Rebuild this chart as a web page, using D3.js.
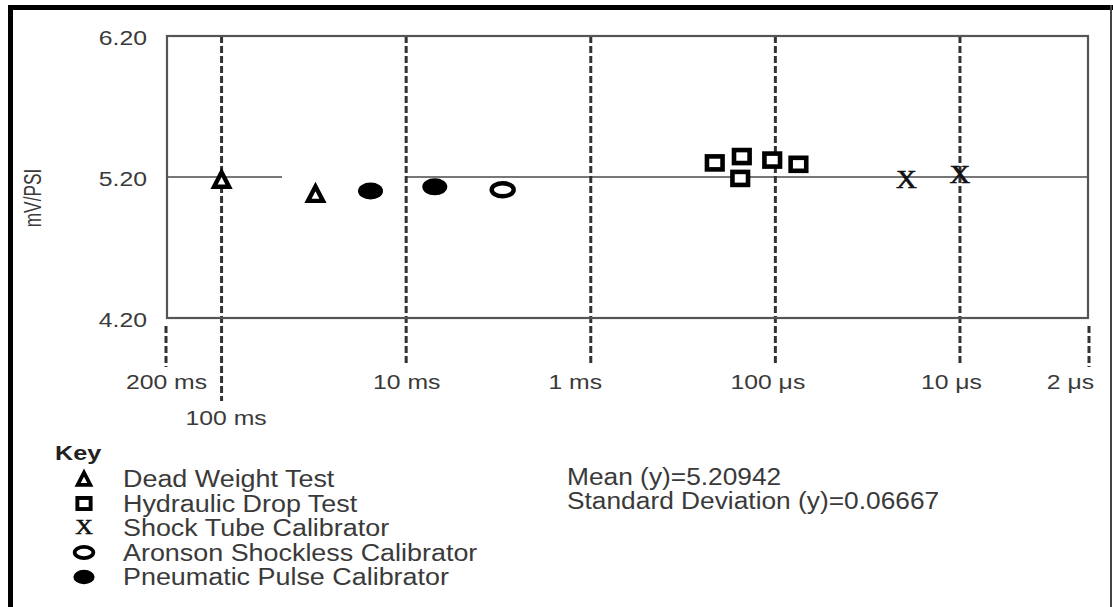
<!DOCTYPE html>
<html>
<head>
<meta charset="utf-8">
<script src="https://cdn.jsdelivr.net/npm/d3@7"></script>
<style>
  html, body { margin: 0; padding: 0; background: #fff; }
  svg { display: block; }
  text { font-family: "Liberation Sans", Arial, Helvetica, sans-serif; }
</style>
</head>
<body>
<svg id="chart" width="1113" height="607"></svg>
<script>
// Transducer sensitivity (mV/PSI) against pulse duration for each calibration method
const deadWeightTime  = [0.1, 0.031];
const deadWeightValue = [5.18, 5.08];
const hydraulicTime   = [213e-6, 152e-6, 155e-6, 104e-6, 75e-6];
const hydraulicValue  = [5.30, 5.345, 5.19, 5.32, 5.29];
const shockTubeTime   = [19.5e-6, 10e-6];
const shockTubeValue  = [5.175, 5.21];
const aronsonTime     = [3e-3];
const aronsonValue    = [5.11];
const pneumaticTime   = [15.6e-3, 7e-3];
const pneumaticValue  = [5.10, 5.13];

const timeTicks      = [0.2, 0.1, 0.01, 1e-3, 1e-4, 1e-5, 2e-6];
const timeTickLabels = ["200 ms", "100 ms", "10 ms", "1 ms", "100 μs", "10 μs", "2 μs"];
const sensTicks      = [4.2, 5.2, 6.2];
const sensTickLabels = ["4.20", "5.20", "6.20"];
const referenceLevel = 5.2;
const legendTitle    = "Key";
const legendLabels   = ["Dead Weight Test", "Hydraulic Drop Test", "Shock Tube Calibrator",
                        "Aronson Shockless Calibrator", "Pneumatic Pulse Calibrator"];
const legendShapes   = ["triangle", "square", "cross", "ring", "disc"];
const statLines      = ["Mean (y)=5.20942", "Standard Deviation (y)=0.06667"];

const series = [
  { shape: "triangle", t: deadWeightTime, v: deadWeightValue },
  { shape: "square",   t: hydraulicTime,  v: hydraulicValue },
  { shape: "cross",    t: shockTubeTime,  v: shockTubeValue },
  { shape: "ring",     t: aronsonTime,    v: aronsonValue },
  { shape: "disc",     t: pneumaticTime,  v: pneumaticValue }
];

const svg = d3.select("#chart");
const textColor = "#3a3a3a";

const x = d3.scaleLog().domain([0.2, 2e-6]).range([166, 1089]);
const y = d3.scaleLinear().domain([4.2, 6.2]).range([318, 36]);

// outer frame of the figure
svg.append("line").attr("x1", 10.5).attr("x2", 10.5).attr("y1", 5).attr("y2", 607)
  .attr("stroke", "#000").attr("stroke-width", 5);
svg.append("line").attr("x1", 8).attr("x2", 1113).attr("y1", 7.5).attr("y2", 7.5)
  .attr("stroke", "#000").attr("stroke-width", 5);
svg.append("line").attr("x1", 1111).attr("x2", 1111).attr("y1", 5).attr("y2", 607)
  .attr("stroke", "#444").attr("stroke-width", 2);

const plotL = x(0.2) + 1, plotR = x(2e-6) - 1;
const plotT = y(6.2), plotB = y(4.2);

// reference level across the plot
const refSegments = [[0.2, 0.047], [0.01, 2e-6]];
svg.append("g").selectAll("line").data(refSegments).join("line")
  .attr("x1", d => Math.max(plotL, x(d[0]))).attr("x2", d => Math.min(plotR, x(d[1])))
  .attr("y1", y(referenceLevel)).attr("y2", y(referenceLevel))
  .attr("stroke", "#777").attr("stroke-width", 2.2);

// dashed time markers
const interior = t => t !== x.domain()[0] && t !== x.domain()[1];
svg.append("g").selectAll("line").data(timeTicks).join("line")
  .attr("x1", d => x(d)).attr("x2", d => x(d))
  .attr("y1", d => interior(d) ? plotT : plotB + 8)
  .attr("y2", (d, i) => i === 1 ? 401 : (interior(d) ? 364 : 367))
  .attr("stroke", "#333").attr("stroke-width", 3)
  .attr("stroke-dasharray", "7,3");

// plot frame
svg.append("rect").attr("x", plotL).attr("y", plotT)
  .attr("width", plotR - plotL).attr("height", plotB - plotT)
  .attr("fill", "none").attr("stroke", "#555").attr("stroke-width", 2.2);

// horizontal stretch applied to label glyphs
function stretch(sel, sx) {
  sel.each(function () {
    const t = d3.select(this);
    const tx = +t.attr("x") || 0, ty = +t.attr("y") || 0;
    t.attr("x", 0).attr("y", 0)
      .attr("transform", `translate(${tx},${ty}) scale(${sx},1)`);
  });
}

// y axis labels
const yAxis = svg.append("g").attr("transform", `translate(${plotL},0)`)
  .call(d3.axisLeft(y).tickValues(sensTicks)
    .tickFormat((d, i) => sensTickLabels[i]).tickSize(0).tickPadding(20));
yAxis.select(".domain").remove();
yAxis.selectAll("text").attr("dy", null).attr("y", 8)
  .attr("font-size", 21).attr("fill", textColor)
  .style("font-family", '"Liberation Sans", Arial, sans-serif');
stretch(yAxis.selectAll("text"), 1.18);

// x axis labels (100 ms is dropped to a second row)
const labelShift = [0, 4, 0, -16, -8, -9, -19];
const xAxis = svg.append("g").attr("transform", `translate(0,389)`)
  .call(d3.axisBottom(x).tickValues(timeTicks)
    .tickFormat((d, i) => timeTickLabels[i]).tickSize(0));
xAxis.select(".domain").remove();
xAxis.selectAll("text")
  .attr("dy", null)
  .attr("y", (d, i) => i === 1 ? 36 : 0)
  .attr("x", (d, i) => labelShift[i])
  .attr("font-size", 19.5).attr("fill", textColor)
  .style("font-family", '"Liberation Sans", Arial, sans-serif');
stretch(xAxis.selectAll("text"), 1.27);

// y axis title
svg.append("text").attr("transform", "translate(41,198) rotate(-90) scale(0.72,1)")
  .attr("text-anchor", "middle").attr("font-size", 24).attr("fill", textColor)
  .text("mV/PSI");

// marker drawing
function marker(g, shape, k) {
  k = k || 1;
  if (shape === "triangle") {
    g.append("path")
      .attr("d", `M0,${-7.5 * k}L${7.5 * k},${7 * k}L${-7.5 * k},${7 * k}Z`)
      .attr("fill", "#fff").attr("stroke", "#000").attr("stroke-width", 4.4 * k)
      .attr("stroke-linejoin", "miter");
  } else if (shape === "square") {
    g.append("rect").attr("x", -7.8 * k).attr("y", -6.5 * k)
      .attr("width", 15.6 * k).attr("height", 13 * k)
      .attr("fill", "#fff").attr("stroke", "#000").attr("stroke-width", 4.6 * k);
  } else if (shape === "cross") {
    g.append("text").attr("text-anchor", "middle").attr("y", 7.5 * k)
      .attr("font-size", 25 * k).attr("fill", "#111")
      .attr("stroke", "#111").attr("stroke-width", 0.6)
      .attr("transform", "scale(1.15,1)")
      .style("font-family", '"Liberation Serif", "DejaVu Serif", serif')
      .text("X");
  } else if (shape === "ring") {
    g.append("ellipse").attr("rx", 11 * k).attr("ry", 6.5 * k)
      .attr("fill", "#fff").attr("stroke", "#000").attr("stroke-width", 4.4 * k);
  } else {
    g.append("ellipse").attr("rx", 12.5 * k).attr("ry", 8.5 * k).attr("fill", "#000");
  }
}

// data points
series.forEach(s => {
  s.t.forEach((t, i) => {
    const g = svg.append("g").attr("transform", `translate(${x(t)},${y(s.v[i])})`);
    marker(g, s.shape, 1);
  });
});

// legend
svg.append("text").attr("x", 0).attr("y", 0).attr("font-size", 21)
  .attr("font-weight", "bold").attr("fill", "#222")
  .attr("transform", "translate(55,460) scale(1.2,1)").text(legendTitle);

const legendRow = 24.5;
legendLabels.forEach((lab, i) => {
  const by = 487 + i * legendRow;
  const g = svg.append("g").attr("transform", `translate(84,${by - 8})`);
  marker(g, legendShapes[i], 0.85);
  svg.append("text").attr("font-size", 23.5).attr("fill", textColor)
    .attr("transform", `translate(123,${by}) scale(1.145,1)`).text(lab);
});

// summary statistics
statLines.forEach((s, i) => {
  svg.append("text").attr("font-size", 23.5).attr("fill", textColor)
    .attr("transform", `translate(567,${485 + i * 24}) scale(1.12,1)`).text(s);
});
</script>
</body>
</html>
